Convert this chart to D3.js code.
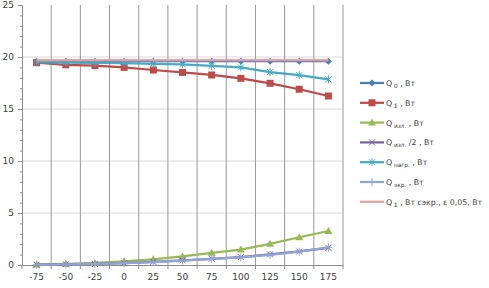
<!DOCTYPE html>
<html>
  <head>
    <script src="https://d3js.org/d3.v7.min.js"></script>
    <style>
      body { margin: 0; background: #fff; }
      text { font-family: "DejaVu Sans", Verdana, sans-serif; fill: #404040; }
    </style>
  </head>
  <body>
    <svg id="chart" width="489" height="288"></svg>
    <script>
      // categories (x axis) and series values
      const temps = [-75, -50, -25, 0, 25, 50, 75, 100, 125, 150, 175];
      const q0 =     [19.6, 19.6, 19.6, 19.6, 19.6, 19.6, 19.6, 19.6, 19.6, 19.6, 19.6];
      const qSum =   [19.45, 19.25, 19.17, 19.0, 18.75, 18.52, 18.27, 17.95, 17.47, 16.9, 16.25];
      const qIzl =   [0.05, 0.12, 0.2, 0.35, 0.55, 0.82, 1.17, 1.48, 2.04, 2.67, 3.27];
      const qIzl2 =  [0.03, 0.06, 0.1, 0.18, 0.3, 0.45, 0.6, 0.76, 1.02, 1.3, 1.65];
      const qNagr =  [19.5, 19.47, 19.43, 19.4, 19.35, 19.3, 19.15, 19.0, 18.55, 18.25, 17.85];
      const qEkr =   [0.03, 0.06, 0.1, 0.17, 0.28, 0.43, 0.58, 0.74, 0.98, 1.28, 1.7];
      const qSumEkr = [19.7, 19.7, 19.7, 19.7, 19.7, 19.7, 19.7, 19.7, 19.7, 19.7, 19.7];
      const yTicks = [0, 5, 10, 15, 20, 25];

      const series = [
        {name: "0", tail: " , Вт", values: q0, color: "#4a7ebb", marker: "diamond"},
        {name: "Σ", tail: " , Вт", values: qSum, color: "#be4b48", marker: "square"},
        {name: "изл.", tail: " , Вт", values: qIzl, color: "#98b954", marker: "triangle"},
        {name: "изл.", tail: " /2 , Вт", values: qIzl2, color: "#7d60a0", marker: "x"},
        {name: "нагр.", tail: " , Вт", values: qNagr, color: "#46aac5", marker: "star"},
        {name: "экр.", tail: " , Вт", values: qEkr, color: "#8ea5d9", marker: "plus"},
        {name: "Σ", tail: " , Вт сэкр., ε 0,05, Вт", values: qSumEkr, color: "#e6a0a0", marker: null}
      ];

      const svg = d3.select("#chart");
      const mLeft = 22, mRight = 343, mTop = 5, mBottom = 265;

      const x = d3.scaleBand().domain(temps).range([mLeft, mRight]);
      const y = d3.scaleLinear().domain([0, 25]).range([mBottom, mTop]);
      const cx = d => x(d) + x.bandwidth() / 2;

      // horizontal gridlines
      svg.append("g").selectAll("line")
        .data(yTicks.filter(t => t > 0 && t < 25))
        .join("line")
          .attr("x1", mLeft).attr("x2", mRight)
          .attr("y1", d => y(d)).attr("y2", d => y(d))
          .attr("stroke", "#d9d9d9");

      // vertical gridlines at category boundaries
      svg.append("g").selectAll("line")
        .data(temps)
        .join("line")
          .attr("x1", d => x(d) + x.bandwidth()).attr("x2", d => x(d) + x.bandwidth())
          .attr("y1", mTop).attr("y2", mBottom)
          .attr("stroke", "#9a9a9a");

      // y axis with minor ticks
      svg.append("g")
        .attr("transform", `translate(${mLeft},0)`)
        .call(d3.axisLeft(y).tickValues(d3.range(0, 26)).tickSize(2).tickFormat(""))
        .call(g => g.selectAll("line, path").attr("stroke", "#8c8c8c"));
      const ya = svg.append("g")
        .attr("transform", `translate(${mLeft},0)`)
        .call(d3.axisLeft(y).tickValues(yTicks).tickSize(4).tickPadding(4));
      ya.select(".domain").attr("stroke", "#8c8c8c");
      ya.selectAll("line").attr("stroke", "#8c8c8c");
      ya.selectAll("text").style("font-size", "9px").attr("fill", "#404040");

      // x axis
      const xa = svg.append("g")
        .attr("transform", `translate(0,${mBottom})`)
        .call(d3.axisBottom(x).tickSize(0).tickPadding(9));
      xa.select(".domain").attr("stroke", "#8c8c8c");
      xa.selectAll("text").style("font-size", "9px").attr("fill", "#404040");
      svg.append("g").selectAll("line")
        .data([temps[0]].concat(temps))
        .join("line")
          .attr("x1", (d, i) => i === 0 ? mLeft : x(d) + x.bandwidth())
          .attr("x2", (d, i) => i === 0 ? mLeft : x(d) + x.bandwidth())
          .attr("y1", mBottom).attr("y2", mBottom + 4)
          .attr("stroke", "#8c8c8c");

      function drawMarker(g, type, color, px, py) {
        if (type === "diamond") {
          g.append("path").attr("d", `M${px},${py - 3.5}L${px + 3.5},${py}L${px},${py + 3.5}L${px - 3.5},${py}Z`)
            .attr("fill", color);
        } else if (type === "square") {
          g.append("rect").attr("x", px - 3.5).attr("y", py - 3.5).attr("width", 7).attr("height", 7)
            .attr("fill", color);
        } else if (type === "triangle") {
          g.append("path").attr("d", `M${px},${py - 4}L${px + 4},${py + 3}L${px - 4},${py + 3}Z`)
            .attr("fill", color);
        } else if (type === "x") {
          g.append("path").attr("d", `M${px - 3},${py - 3}L${px + 3},${py + 3}M${px - 3},${py + 3}L${px + 3},${py - 3}`)
            .attr("stroke", color).attr("stroke-width", 1);
        } else if (type === "star") {
          g.append("path").attr("d", `M${px - 3},${py - 3}L${px + 3},${py + 3}M${px - 3},${py + 3}L${px + 3},${py - 3}M${px},${py - 4}L${px},${py + 4}`)
            .attr("stroke", color).attr("stroke-width", 1);
        } else if (type === "plus") {
          g.append("path").attr("d", `M${px - 4},${py}L${px + 4},${py}M${px},${py - 4}L${px},${py + 4}`)
            .attr("stroke", color).attr("stroke-width", 1);
        }
      }

      const line = d3.line().x((d, i) => cx(temps[i])).y(d => y(d));

      series.forEach(s => {
        const g = svg.append("g");
        g.append("path")
          .attr("d", line(s.values))
          .attr("fill", "none")
          .attr("stroke", s.color)
          .attr("stroke-width", 2.25);
        if (s.marker) s.values.forEach((v, i) => drawMarker(g, s.marker, s.color, cx(temps[i]), y(v)));
      });

      // legend
      const legend = svg.append("g");
      series.forEach((s, i) => {
        const ly = 83 + i * 19.8;
        const g = legend.append("g");
        g.append("line").attr("x1", 360).attr("x2", 384).attr("y1", ly).attr("y2", ly)
          .attr("stroke", s.color).attr("stroke-width", 2.25);
        if (s.marker) drawMarker(g, s.marker, s.color, 372, ly);
        const t = g.append("text").attr("x", 386).attr("y", ly + 3).style("font-size", "7.8px");
        t.append("tspan").text("Q");
        t.append("tspan").attr("dy", 2).style("font-size", "5.8px").text(" " + s.name);
        t.append("tspan").attr("dy", -2).text(s.tail);
      });
    </script>
  </body>
</html>
